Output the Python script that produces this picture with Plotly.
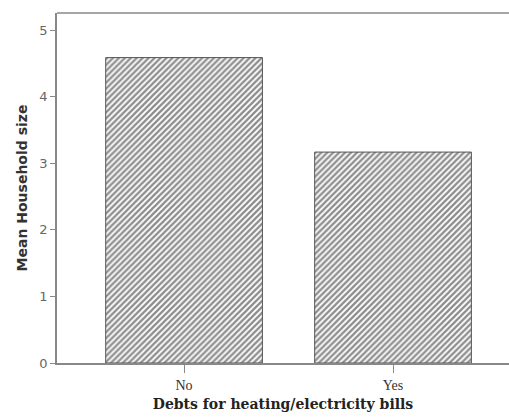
import plotly.graph_objects as go

categories = ["No", "Yes"]
values = [4.59, 3.17]
y_ticks = [0, 1, 2, 3, 4, 5]

fig = go.Figure()
fig.add_trace(go.Bar(
    x=categories, y=values, width=0.75,
    marker=dict(color="white",
                line=dict(color="#555555", width=1),
                pattern=dict(shape="/", fgcolor="#1e1e1e", bgcolor="white",
                             size=4.2, solidity=0.55)),
))
fig.update_layout(
    width=509, height=418, autosize=False,
    margin=dict(l=57, r=0, t=13, b=55, autoexpand=False),
    plot_bgcolor="white", paper_bgcolor="white",
    showlegend=False,
    xaxis=dict(range=[-0.608, 1.555], showline=True, linecolor="#888888", linewidth=1.5,
               ticks="outside", ticklen=8, tickcolor="#888888", automargin=False,
               tickfont=dict(family="Liberation Serif", size=14, color="#333333"),
               title=dict(text="<b>Debts for heating/electricity bills</b>",
                          font=dict(family="DejaVu Serif", size=14, color="#222222"),
                          standoff=8),
               showgrid=False, zeroline=False),
    yaxis=dict(range=[0, 5.26], tickvals=y_ticks, showline=True, linecolor="#888888", linewidth=1.5,
               ticks="outside", ticklen=5, tickcolor="#888888", automargin=False,
               tickfont=dict(family="DejaVu Sans", size=13, color="#666666"),
               title=dict(text="<b>Mean Household size</b>",
                          font=dict(family="DejaVu Sans", size=14, color="#333333"),
                          standoff=8),
               showgrid=False, zeroline=False),
)
fig.add_shape(type="line", xref="paper", yref="paper", x0=0, x1=1, y0=1, y1=1,
              line=dict(color="#888888", width=1.5))
fig.write_html("out.html", config={"displayModeBar": False},
               post_script="document.body.style.margin='0px';document.body.style.overflow='hidden';")
